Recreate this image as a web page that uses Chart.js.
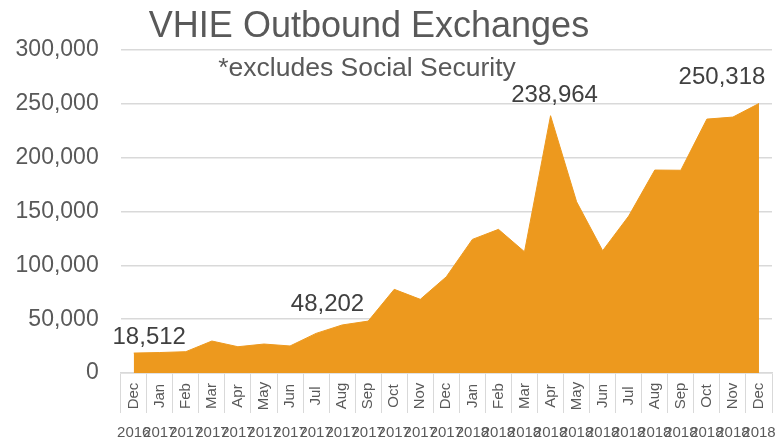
<!DOCTYPE html>
<html><head><meta charset="utf-8">
<script src="https://cdn.jsdelivr.net/npm/chart.js@4.4.1/dist/chart.umd.min.js"></script>
<style>html,body{margin:0;padding:0;background:#fff;overflow:hidden}canvas{display:block}</style>
</head><body>
<canvas id="c" width="778" height="444"></canvas>
<script>
const months = ['Dec','Jan','Feb','Mar','Apr','May','Jun','Jul','Aug','Sep','Oct','Nov','Dec','Jan','Feb','Mar','Apr','May','Jun','Jul','Aug','Sep','Oct','Nov','Dec'];
const years = ['2016','2017','2017','2017','2017','2017','2017','2017','2017','2017','2017','2017','2017','2018','2018','2018','2018','2018','2018','2018','2018','2018','2018','2018','2018'];
const exchanges = [18512, 19000, 19800, 29700, 24400, 26900, 25100, 36800, 44600, 48202, 77700, 68400, 89400, 124100, 133400, 112600, 238964, 159000, 113600, 145800, 188500, 188300, 235800, 237700, 250318];
const labelledPoints = [0, 9, 16, 24];
const titleText = 'VHIE Outbound Exchanges';
const subtitleText = '*excludes Social Security';
const yMin = 0, yMax = 300000, yStep = 50000;

// label placement (style, pixels relative to the point)
const labelOffsets = [[15.5, -16], [-40.7, -16.7], [4, -20], [-37, -26]];

const FONT = "'Liberation Sans', Arial, sans-serif";
const GREY = '#595959';

const overlay = {
  id: 'overlay',
  afterDraw(chart) {
    const ctx = chart.ctx;
    const xs = chart.scales.x;
    ctx.save();
    ctx.fillStyle = GREY;
    ctx.font = '15px ' + FONT;
    ctx.textAlign = 'center';
    ctx.textBaseline = 'middle';
    months.forEach((m, i) => {
      const x = xs.getPixelForValue(i);
      ctx.save();
      ctx.translate(x, 396);
      ctx.rotate(-Math.PI / 2);
      ctx.fillText(m, 0, 0);
      ctx.restore();
    });
    const meta = chart.getDatasetMeta(0);
    ctx.fillStyle = '#404040';
    ctx.font = '24px ' + FONT;
    labelledPoints.forEach((idx, k) => {
      const el = meta.data[idx];
      ctx.fillText(exchanges[idx].toLocaleString('en-US'), el.x + labelOffsets[k][0], el.y + labelOffsets[k][1]);
    });
    ctx.fillStyle = GREY;
    ctx.textBaseline = 'alphabetic';
    ctx.font = '36px ' + FONT;
    ctx.fillText(titleText, 369, 37);
    ctx.font = '26.5px ' + FONT;
    ctx.fillText(subtitleText, 367, 76);
    ctx.restore();
  }
};

new Chart(document.getElementById('c'), {
  type: 'line',
  data: {
    labels: months.map((m, i) => m + ' ' + years[i]),
    datasets: [{
      data: exchanges,
      fill: 'origin',
      backgroundColor: '#ED991E',
      borderColor: '#ED991E',
      borderWidth: 1,
      pointRadius: 0,
      tension: 0
    }]
  },
  options: {
    responsive: false,
    animation: false,
    devicePixelRatio: 1,
    layout: { padding: { top: 50, right: 6, left: 0, bottom: 0 } },
    plugins: { legend: { display: false }, tooltip: { enabled: false }, title: { display: false } },
    scales: {
      x: {
        offset: true,
        grid: { offset: true, drawOnChartArea: false, drawTicks: true, tickLength: 40, color: '#d9d9d9', lineWidth: 1 },
        border: { display: true, color: '#d9d9d9', width: 1.5 },
        ticks: {
          autoSkip: false, minRotation: 0, maxRotation: 0, padding: 11,
          color: GREY, font: { family: FONT, size: 15 },
          callback: (v, i) => years[i]
        },
        afterFit(s) { s.height = 71; s.paddingLeft = 0; s.paddingRight = 0; }
      },
      y: {
        min: yMin, max: yMax,
        grid: { color: '#d9d9d9', lineWidth: 1.5, drawTicks: false },
        border: { display: false },
        ticks: {
          stepSize: yStep, padding: 22, color: GREY, font: { family: FONT, size: 23 },
          callback: v => v.toLocaleString('en-US')
        },
        afterFit(s) { s.width = 120.7; }
      }
    }
  },
  plugins: [overlay]
});
</script>
</body></html>
